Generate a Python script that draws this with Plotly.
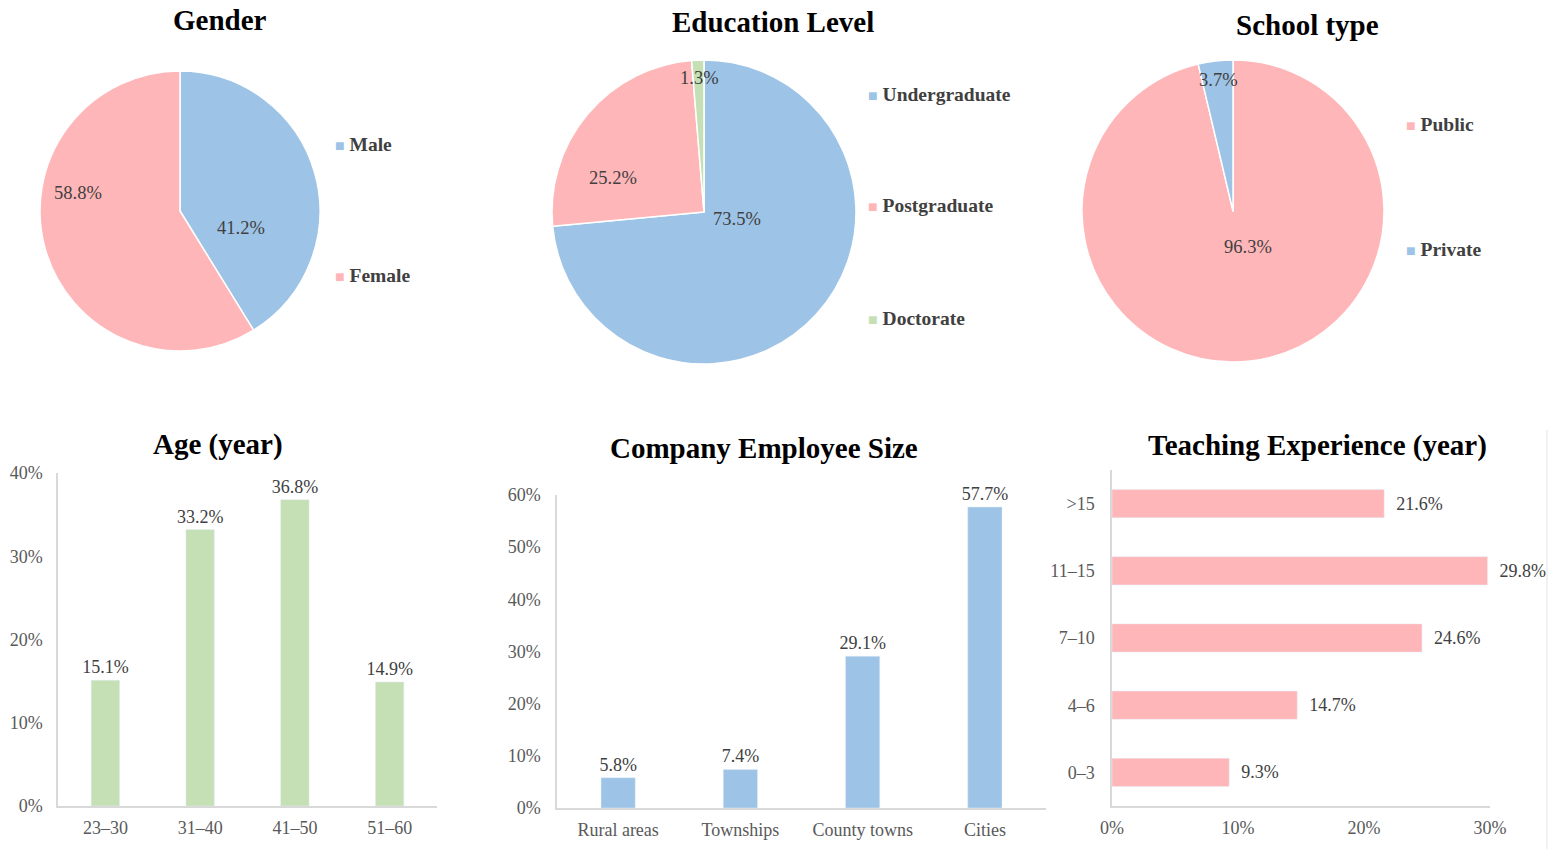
import plotly.graph_objects as go

FONT = "Liberation Serif"
BLUE = "#9DC3E6"
PINK = "#FFB6B8"
GREEN = "#C5E0B4"
AXIS = "#D9D9D9"
TICK = "#595959"
LABEL = "#404040"

gender_labels = ["Male", "Female"]
gender_values = [41.2, 58.8]
gender_colors = [BLUE, PINK]

edu_labels = ["Undergraduate", "Postgraduate", "Doctorate"]
edu_values = [73.5, 25.2, 1.3]
edu_colors = [BLUE, PINK, GREEN]

school_labels = ["Public", "Private"]
school_values = [96.3, 3.7]
school_colors = [PINK, BLUE]

age_cats = ["23–30", "31–40", "41–50", "51–60"]
age_values = [15.1, 33.2, 36.8, 14.9]

company_cats = ["Rural areas", "Townships", "County towns", "Cities"]
company_values = [5.8, 7.4, 29.1, 57.7]

teach_cats = ["0–3", "4–6", "7–10", "11–15", ">15"]
teach_values = [9.3, 14.7, 24.6, 29.8, 21.6]

W, H = 1557, 849


def px(x):
    return x / W


def py(y):
    return 1 - y / H


fig = go.Figure()

# pie label anchor points (pixel positions)
pie_label_pos = {
    "gender": [(241, 228), (78, 193)],
    "edu": [(737, 219), (613, 178), (699, 78)],
    "school": [(1248, 247), (1218, 80)],
}


def add_pie(key, labels, values, colors, x0, x1, y0, y1):
    fig.add_trace(go.Pie(
        labels=labels, values=[v / 100 for v in values],
        marker=dict(colors=colors, line=dict(color="white", width=1.5)),
        sort=False, direction="clockwise", rotation=0,
        textinfo="none",
        domain=dict(x=[px(x0), px(x1)], y=[py(y1), py(y0)]),
        showlegend=False, hoverinfo="label+percent",
    ))
    for v, (lx, ly) in zip(values, pie_label_pos[key]):
        fig.add_annotation(text=f"{v:.1f}%", x=px(lx), y=py(ly), xref="paper", yref="paper",
                           xanchor="center", yanchor="middle", showarrow=False,
                           font=dict(family=FONT, size=18.5, color=LABEL))


add_pie("gender", gender_labels, gender_values, gender_colors, 40, 320, 71, 351)
add_pie("edu", edu_labels, edu_values, edu_colors, 552, 856, 60, 364)
add_pie("school", school_labels, school_values, school_colors, 1082, 1384, 60, 362)

bar_text_font = dict(family=FONT, size=18, color=LABEL)

fig.add_trace(go.Bar(
    x=age_cats, y=[v / 100 for v in age_values], xaxis="x", yaxis="y",
    marker=dict(color=GREEN), width=0.3,
    text=[f"{v:.1f}%" for v in age_values], textposition="outside", constraintext="none",
    textfont=bar_text_font, cliponaxis=False, showlegend=False,
))
fig.add_trace(go.Bar(
    x=company_cats, y=[v / 100 for v in company_values], xaxis="x2", yaxis="y2",
    marker=dict(color=BLUE), width=0.28,
    text=[f"{v:.1f}%" for v in company_values], textposition="outside", constraintext="none",
    textfont=bar_text_font, cliponaxis=False, showlegend=False,
))
fig.add_trace(go.Bar(
    y=teach_cats, x=[v / 100 for v in teach_values], xaxis="x3", yaxis="y3",
    orientation="h", marker=dict(color=PINK), width=0.42,
    text=["\u00a0\u00a0" + f"{v:.1f}%" for v in teach_values], textposition="outside",
    constraintext="none",
    textfont=bar_text_font, cliponaxis=False, showlegend=False,
))

tickfont = dict(family=FONT, size=18, color=TICK)
common_cat = dict(showline=True, linecolor=AXIS, linewidth=1.5, showgrid=False,
                  ticks="", tickfont=tickfont, zeroline=False, fixedrange=True,
                  automargin=False)
common_val = dict(showline=True, linecolor=AXIS, linewidth=1.5, showgrid=False,
                  ticks="", tickfont=tickfont, zeroline=False, tickformat=".0%",
                  fixedrange=True, automargin=False)

fig.update_layout(
    width=W, height=H,
    margin=dict(l=0, r=0, t=0, b=0, autoexpand=False),
    paper_bgcolor="white", plot_bgcolor="white",
    font=dict(family=FONT),
    xaxis=dict(domain=[px(58), px(437)], anchor="y", ticklabelstandoff=5, **common_cat),
    yaxis=dict(domain=[py(806), py(473)], anchor="x", range=[0, 0.4], dtick=0.1,
               ticklabelstandoff=10, **common_val),
    xaxis2=dict(domain=[px(557), px(1046)], anchor="y2", ticklabelstandoff=5, **common_cat),
    yaxis2=dict(domain=[py(808), py(495)], anchor="x2", range=[0, 0.6], dtick=0.1,
                ticklabelstandoff=11, **common_val),
    xaxis3=dict(domain=[px(1112), px(1490)], anchor="y3", range=[0, 0.3], dtick=0.1,
                ticklabelstandoff=5, **common_val),
    yaxis3=dict(domain=[py(806), py(470)], anchor="x3", ticklabelstandoff=12,
                categoryorder="array", categoryarray=teach_cats, **common_cat),
)

titles = [
    ("Gender", 220, 20),
    ("Education Level", 773, 22),
    ("School type", 1307, 25),
    ("Age (year)", 218, 445),
    ("Company Employee Size", 764, 448),
    ("Teaching Experience (year)", 1317, 446),
]
for t, x, y in titles:
    fig.add_annotation(text=f"<b>{t}</b>", x=px(x), y=py(y), xref="paper", yref="paper",
                       xanchor="center", yanchor="middle", showarrow=False,
                       font=dict(family=FONT, size=29, color="black"))

legends = [
    ("Male", BLUE, 333, 144),
    ("Female", PINK, 333, 275),
    ("Undergraduate", BLUE, 866, 94),
    ("Postgraduate", PINK, 866, 206),
    ("Doctorate", GREEN, 866, 318),
    ("Public", PINK, 1404, 124),
    ("Private", BLUE, 1404, 250),
]
for name, col, x, y in legends:
    fig.add_annotation(
        text=f"<span style='color:{col};font-size:16px'>■</span> <b>{name}</b>",
        x=px(x), y=py(y), xref="paper", yref="paper", xanchor="left", yanchor="middle",
        showarrow=False, font=dict(family=FONT, size=19.5, color=LABEL))

fig.add_shape(type="line", xref="paper", yref="paper", x0=px(1547), x1=px(1547),
              y0=py(849), y1=py(430), line=dict(color="#EEEEEE", width=1.5))

fig.write_html("out.html")
